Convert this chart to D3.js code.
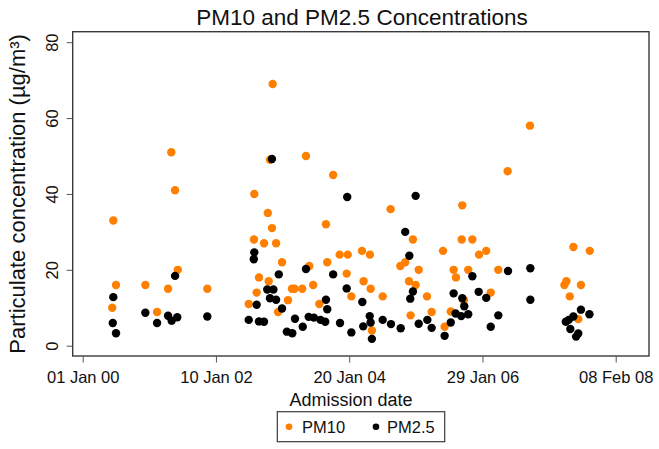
<!DOCTYPE html>
<html><head><meta charset="utf-8">
<script src="https://cdn.jsdelivr.net/npm/d3@7"></script>
<style>body{margin:0;background:#fff}svg{display:block;font-family:"Liberation Sans",Arial,sans-serif}</style>
</head><body>
<script>
const pm10Dates = ["2000-06-13","2000-06-19","2000-07-04","2000-12-14","2001-02-17","2001-04-19","2001-05-07","2001-05-28","2001-06-12","2001-11-23",
"2002-07-11","2002-08-11","2002-08-09","2002-08-24","2002-09-06","2002-10-04","2002-10-25","2002-10-30","2002-11-06","2002-11-17","2002-11-21","2002-12-10","2002-12-21",
"2003-01-12","2003-02-14","2003-03-08","2003-03-23","2003-05-04","2003-05-25","2003-06-12","2003-07-04","2003-08-07","2003-09-13","2003-09-20","2003-10-23","2003-11-28",
"2004-01-06","2004-01-12","2004-02-01","2004-03-31","2004-04-09","2004-05-14","2004-05-18","2004-05-25","2004-07-24","2004-09-06","2004-10-30","2004-11-26","2004-12-17","2004-12-26",
"2005-01-08","2005-01-23","2005-02-09","2005-03-27","2005-04-22","2005-06-24","2005-07-03","2005-08-06","2005-08-22","2005-09-04","2005-10-06","2005-10-09","2005-10-18","2005-11-11","2005-12-04",
"2006-01-10","2006-02-19","2006-03-16","2006-04-27","2006-06-18","2006-10-20",
"2007-04-29","2007-05-10","2007-05-29","2007-06-18","2007-07-15","2007-07-30","2007-09-17"];
const pm10Values = [10,33,16,16,8.9,15,51,41,20,15,
11,40,28,14,18,27,35,17,49,31,69,27,8.9,
22,12,15,15,15,50,21,16,11,32,22,45,24,
19,24,13,25,17,24,15,4,13,36,21,22,17,8,
28,16,20,13,8.9,25,5,9,20,18,28,37,12,20,28,
24,25,14,20,46,58,
16,17,13,26,7,16,25];

const pm25Dates = ["2000-06-16","2000-06-19","2000-07-04","2000-12-14","2001-02-17","2001-04-19","2001-05-09","2001-05-28","2001-06-09","2001-11-23",
"2002-07-11","2002-08-08","2002-08-11","2002-08-24","2002-09-06","2002-10-04","2002-10-22","2002-11-06","2002-11-17","2002-11-25","2002-12-10","2002-12-25",
"2003-01-12","2003-02-08","2003-03-10","2003-03-25","2003-05-07","2003-05-25","2003-06-09","2003-07-08","2003-08-14","2003-09-09","2003-09-13","2003-09-20","2003-10-23","2003-11-30",
"2004-01-06","2004-01-09","2004-02-01","2004-04-02","2004-04-07","2004-05-13","2004-05-18","2004-05-25","2004-07-24","2004-09-08","2004-11-01","2004-11-26","2004-12-19","2004-12-24",
"2005-01-08","2005-01-23","2005-02-09","2005-03-29","2005-04-22","2005-07-03","2005-08-06","2005-08-22","2005-09-02","2005-10-03","2005-10-09","2005-10-20","2005-11-11","2005-12-04",
"2006-01-08","2006-02-19","2006-03-16","2006-04-27","2006-06-20","2006-10-22","2006-10-22",
"2007-05-07","2007-05-23","2007-06-01","2007-06-18","2007-07-03","2007-07-15","2007-07-30","2007-09-15"];
const pm25Values = [6,12.8,3.3,8.7,6,7.9,6.6,18.4,7.5,7.7,
6.8,22.8,24.6,10.8,6.4,6.3,14.8,12.5,49.2,14.8,12.1,18.8,
9.8,3.7,3.3,7.1,5,20.2,7.6,7.4,6.8,6.3,12.1,9.6,18.8,6,
15.1,39.2,3.5,11.5,5.1,7.8,6.1,1.8,6.8,5.7,4.6,30,23.7,12.4,
14.3,39.5,5.8,6.8,4.7,2.6,6.1,13.8,8.5,7.8,12.5,10.4,8.3,18.3,
14.2,12.6,5,8,19.7,20.4,12.1,
6.3,6.8,4.4,7.7,2.4,3.2,9.5,8.3];

const xTickDates = ["2000-01-01","2002-01-10","2004-01-20","2006-01-29","2008-02-08"];
const xTickLabels = ["01 Jan 00","10 Jan 02","20 Jan 04","29 Jan 06","08 Feb 08"];
const yTicks = [0,20,40,60,80];
const seriesNames = ["PM10","PM2.5"];
const seriesColors = ["#ff8000","#000000"];

const W = 659, H = 449;
const box = {left:72.7, right:649, top:31.7, bottom:356};
const parse = d3.utcParse("%Y-%m-%d");

const svg = d3.select("body").append("svg").attr("width", W).attr("height", H);

const x = d3.scaleUtc().domain([parse(xTickDates[0]), parse(xTickDates[4])]).range([82.7, 615.7]);
const y = d3.scaleLinear().domain([0, 80]).range([345.7, 42.2]);

const pm10 = pm10Dates.map((d,i)=>({date:parse(d), v:pm10Values[i]}));
const pm25 = pm25Dates.map((d,i)=>({date:parse(d), v:pm25Values[i]}));

svg.append("g").selectAll("circle").data(pm10).join("circle")
  .attr("cx", d=>x(d.date)).attr("cy", d=>y(d.v)).attr("r", 4.2).attr("fill", seriesColors[0]);
svg.append("g").selectAll("circle").data(pm25).join("circle")
  .attr("cx", d=>x(d.date)).attr("cy", d=>y(d.v)).attr("r", 4.2).attr("fill", seriesColors[1]);

svg.append("rect").attr("x", box.left).attr("y", box.top)
  .attr("width", box.right-box.left).attr("height", box.bottom-box.top)
  .attr("fill","none").attr("stroke","#3a3a3a").attr("stroke-width",1.4);

const xAxis = d3.axisBottom(x)
  .tickValues(xTickDates.map(parse))
  .tickFormat((d,i)=>xTickLabels[i])
  .tickSizeInner(6.5).tickSizeOuter(0).tickPadding(5);
const gx = svg.append("g").attr("transform",`translate(0,${box.bottom})`).call(xAxis);
gx.select(".domain").remove();
gx.selectAll(".tick line").attr("stroke","#555").attr("stroke-width",1);
gx.selectAll(".tick text").attr("font-size",16.5).attr("fill","#111")
  .attr("font-family","'Liberation Sans',Arial,sans-serif").attr("dy",null).attr("y",26.7);

const yAxis = d3.axisLeft(y).tickValues(yTicks).tickSizeInner(6).tickSizeOuter(0).tickPadding(0);
const gy = svg.append("g").attr("transform",`translate(${box.left},0)`).call(yAxis);
gy.select(".domain").remove();
gy.selectAll(".tick line").attr("stroke","#555").attr("stroke-width",1);
gy.selectAll(".tick text").attr("font-size",16.5).attr("fill","#111")
  .attr("font-family","'Liberation Sans',Arial,sans-serif")
  .attr("x",null).attr("dy",null).attr("text-anchor","middle")
  .attr("transform","translate(-14.5,0) rotate(-90)");

svg.append("text").attr("x", 362).attr("y", 25).attr("text-anchor","middle")
  .attr("font-size",22.5).attr("fill","#111").text("PM10 and PM2.5 Concentrations");
svg.append("text").attr("x", 351).attr("y", 406).attr("text-anchor","middle")
  .attr("font-size",18).attr("fill","#111").text("Admission date");
svg.append("text").attr("transform",`translate(25,${(box.top+box.bottom)/2}) rotate(-90)`)
  .attr("text-anchor","middle").attr("font-size",22).attr("fill","#111")
  .text("Particulate  concentration (µg/m³)");

const lg = svg.append("g");
lg.append("rect").attr("x",277.3).attr("y",411.7).attr("width",167.4).attr("height",30)
  .attr("fill","#fff").attr("stroke","#3a3a3a").attr("stroke-width",1.2);
const items = [{x:289, tx:302}, {x:376, tx:387}];
items.forEach((it,i)=>{
  lg.append("circle").attr("cx",it.x).attr("cy",426.7).attr("r",3.3).attr("fill",seriesColors[i]);
  lg.append("text").attr("x",it.tx).attr("y",432.5).attr("font-size",16.5).attr("fill","#111").text(seriesNames[i]);
});
</script>
</body></html>
